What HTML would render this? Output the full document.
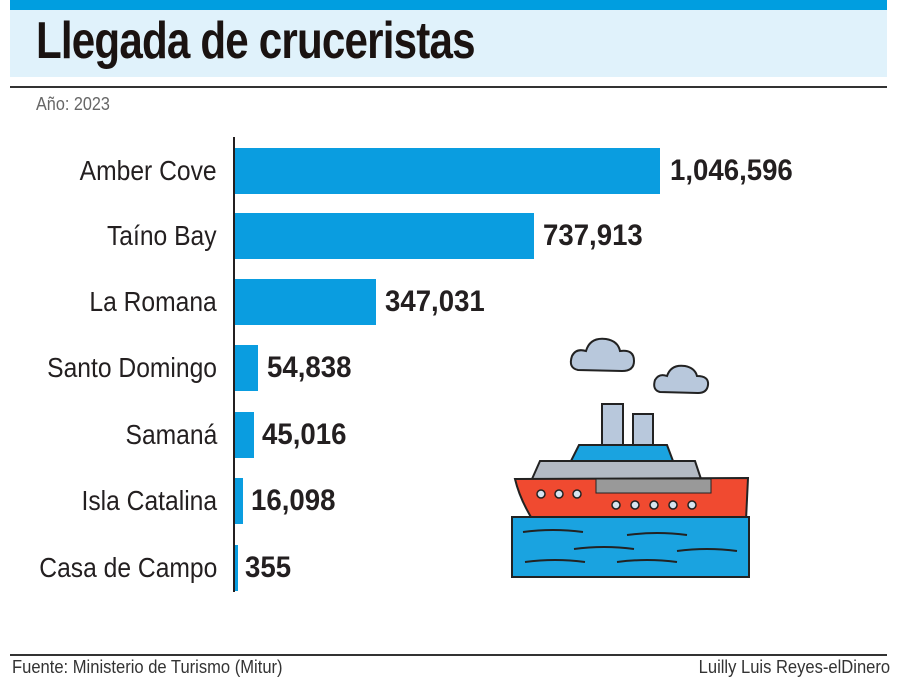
<!DOCTYPE html>
<html><head><meta charset="utf-8"><style>
body{margin:0;width:900px;height:698px;background:#fff;position:relative;overflow:hidden;font-family:"Liberation Sans",sans-serif}
.a{position:absolute;white-space:nowrap}
.lab{position:absolute;right:683px;font-size:28px;color:#231f20;transform:scaleX(.88);transform-origin:right center;line-height:46px}
.val{position:absolute;font-size:30px;font-weight:bold;color:#231f20;transform:scaleX(.92);transform-origin:left center;line-height:46px}
.bar{position:absolute;left:235px;height:46px;background:#0a9de0}
</style></head><body>
<div class="a" style="left:10px;top:0;width:877px;height:10px;background:#009ee0"></div>
<div class="a" style="left:10px;top:10px;width:877px;height:67px;background:#e0f2fb"></div>
<div class="a" style="left:36px;top:11px;font-size:52px;font-weight:bold;color:#1a1311;transform:scaleX(.81);transform-origin:left;letter-spacing:-1px">Llegada de cruceristas</div>
<div class="a" style="left:10px;top:86px;width:877px;height:2px;background:#333"></div>
<div class="a" style="left:36px;top:94px;font-size:18px;color:#666;transform:scaleX(.9);transform-origin:left">Año: 2023</div>
<div class="a" style="left:233px;top:137px;width:2px;height:455px;background:#231f20"></div>

<div class="bar" style="top:148px;width:425px"></div><div class="lab" style="top:148px">Amber Cove</div><div class="val" style="left:670px;top:148px">1,046,596</div>
<div class="bar" style="top:213px;width:299px"></div><div class="lab" style="top:213px">Taíno Bay</div><div class="val" style="left:543px;top:213px">737,913</div>
<div class="bar" style="top:279px;width:141px"></div><div class="lab" style="top:279px">La Romana</div><div class="val" style="left:385px;top:279px">347,031</div>
<div class="bar" style="top:345px;width:23px"></div><div class="lab" style="top:345px">Santo Domingo</div><div class="val" style="left:267px;top:345px">54,838</div>
<div class="bar" style="top:412px;width:19px"></div><div class="lab" style="top:412px">Samaná</div><div class="val" style="left:262px;top:412px">45,016</div>
<div class="bar" style="top:478px;width:8px"></div><div class="lab" style="top:478px">Isla Catalina</div><div class="val" style="left:251px;top:478px">16,098</div>
<div class="bar" style="top:545px;width:3px"></div><div class="lab" style="top:545px">Casa de Campo</div><div class="val" style="left:245px;top:545px">355</div>

<svg class="a" style="left:500px;top:330px" width="260" height="260" viewBox="500 330 260 260">
<g stroke="#222" stroke-width="2">
<path d="M578 370 q-10 -2 -6 -14 q4 -8 14 -5 q4 -14 20 -12 q12 2 14 12 q14 -2 14 10 q0 10 -12 10 z" fill="#b8c8dc"/>
<path d="M660 392 q-8 -2 -5 -12 q4 -7 12 -4 q4 -12 18 -10 q10 2 12 10 q12 0 11 9 q-1 8 -10 8 z" fill="#b8c8dc"/>
<rect x="602" y="404" width="21" height="42" fill="#b8c8dc"/>
<rect x="633" y="414" width="20" height="32" fill="#b8c8dc"/>
<path d="M571 461 L579 445 L667 445 L673 461 z" fill="#1aa3e0"/>
<path d="M532 479 L540 461 L695 461 L701 479 z" fill="#b3bac4"/>
<path d="M515 479 L748 478 L746 520 L534 522 Q520 500 515 479 z" fill="#f04a30"/>
<rect x="596" y="479" width="115" height="14" fill="#999" stroke-width="1"/>
<rect x="512" y="517" width="237" height="60" fill="#1aa3e0"/>
<g fill="#d6e4f0" stroke-width="1.5"><circle cx="541" cy="494" r="4"/><circle cx="559" cy="494" r="4"/><circle cx="577" cy="494" r="4"/><circle cx="616" cy="505" r="4"/><circle cx="635" cy="505" r="4"/><circle cx="654" cy="505" r="4"/><circle cx="673" cy="505" r="4"/><circle cx="692" cy="505" r="4"/></g>
<g fill="none"><path d="M523 532 q30 -4 60 0"/><path d="M627 535 q30 -4 60 0"/><path d="M574 549 q30 -4 60 0"/><path d="M677 551 q30 -4 60 0"/><path d="M525 562 q30 -4 60 0"/><path d="M617 562 q30 -4 60 0"/></g>
</g></svg>

<div class="a" style="left:10px;top:654px;width:877px;height:2px;background:#333"></div>
<div class="a" style="left:12px;top:657px;font-size:18px;color:#333;transform:scaleX(.92);transform-origin:left">Fuente: Ministerio de Turismo (Mitur)</div>
<div class="a" style="right:10px;top:657px;font-size:18px;color:#333;transform:scaleX(.92);transform-origin:right">Luilly Luis Reyes-elDinero</div>
</body></html>
